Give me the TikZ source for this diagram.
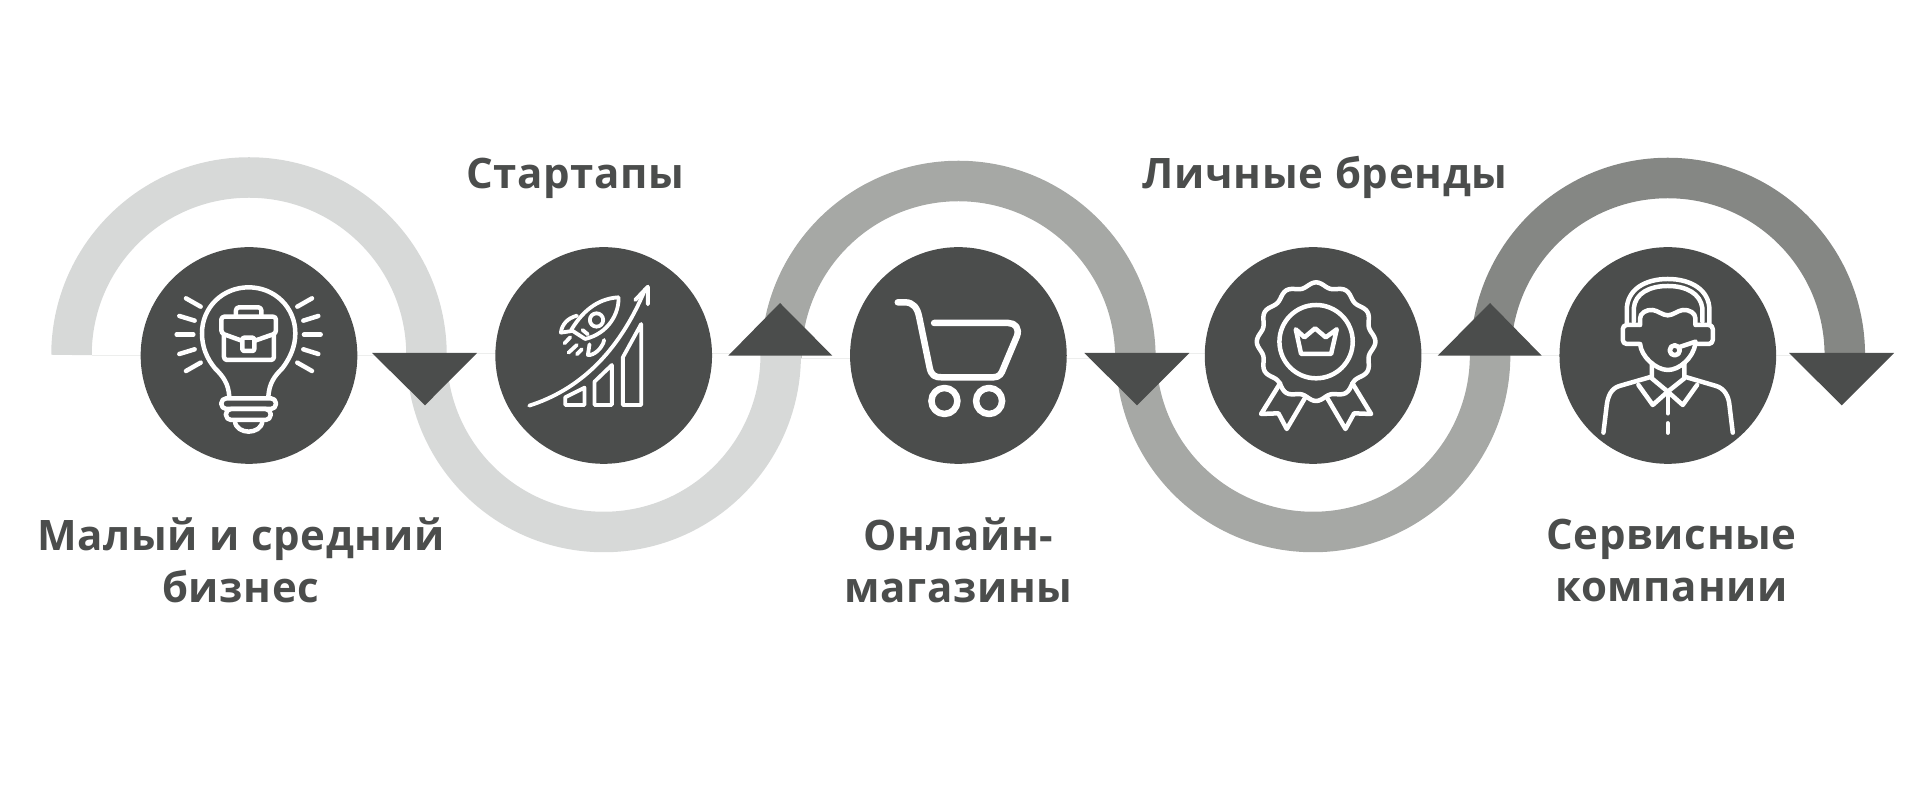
\documentclass[tikz,border=0pt]{standalone}
\usepackage{fontspec}
\setmainfont{Open Sans}[LetterSpace=1.6]
\usepackage{tikz}
\usetikzlibrary{positioning, calc, backgrounds}
\definecolor{hubgray}{HTML}{4B4D4C}
\definecolor{bandlight}{HTML}{D7D9D8}
\definecolor{bandmid}{HTML}{A6A8A5}
\definecolor{banddark}{HTML}{858784}
\definecolor{chordgray}{HTML}{EDEEED}
\tikzset{
  hub/.style={circle, fill=hubgray, minimum size=216.7pt, inner sep=0pt, outer sep=0pt},
  band/.style={line width=40.5pt},
  chord/.style={draw=chordgray, line width=0.7pt},
  caption/.style={text=hubgray, inner sep=0pt, align=center, font=\fontsize{42}{52}\selectfont\bfseries},
  icon/.style={x=0.3333pt, y=-0.3333pt, white, line width=4.5pt, line cap=round, line join=round}
}

\begin{document}
\begin{tikzpicture}[x=1pt, y=1pt]
  \useasboundingbox (0,0) rectangle (1920,800);

  \node[hub] (hubBulb) at (249,444.5) {};
  \node[hub, right=138pt of hubBulb] (hubRocket) {};
  \node[hub, right=138pt of hubRocket] (hubCart) {};
  \node[hub, right=138pt of hubCart] (hubBadge) {};
  \node[hub, right=138pt of hubBadge] (hubAgent) {};

  \begin{scope}[on background layer]
    \draw[chord] ($(hubBulb)+(-157,0)$) -- ($(hubBulb)+(157,0)$);
    \draw[chord] ($(hubRocket)+(-157,2)$) -- ($(hubRocket)+(157,2)$);
    \draw[chord] ($(hubCart)+(-157,-3)$) -- ($(hubCart)+(157,-3)$);
    \draw[chord] ($(hubBadge)+(-157,2)$) -- ($(hubBadge)+(157,2)$);
    \draw[chord] ($(hubAgent)+(-157,0)$) -- ($(hubAgent)+(157,0)$);
    \draw[band, bandlight] ($(hubBulb)+(-177.5,0.5)$) arc[start angle=180, end angle=0, radius=177.5];
    \draw[band, bandmid] ($(hubCart)+(-177,-2.5)$) arc[start angle=180, end angle=0, radius=177];
    \draw[band, banddark] ($(hubAgent)+(-177,0.5)$) arc[start angle=180, end angle=0, radius=177];
    \draw[band, bandlight] ($(hubRocket)+(-177,0.5)$) arc[start angle=180, end angle=360, radius=177];
    \draw[band, bandmid] ($(hubBadge)+(-177,0.5)$) arc[start angle=180, end angle=360, radius=177];
  \end{scope}

  \fill[hubgray] (372,447) -- (477,447) -- (425,394.7) -- cycle;
  \fill[hubgray] (728.3,444.3) -- (832.3,444.3) -- (780,497) -- cycle;
  \fill[hubgray] (1084.3,447) -- (1189.3,447) -- (1137,394.7) -- cycle;
  \fill[hubgray] (1437.7,444.3) -- (1541.7,444.3) -- (1490,497) -- cycle;
  \fill[hubgray] (1789,447) -- (1894,447) -- (1841.7,394.7) -- cycle;

  \node[caption, anchor=center] (capBulb) at (240.7,239.5) {Малый и средний\\бизнес};
  \node[caption, anchor=base] (capRocket) at (575,611.7) {Стартапы};
  \node[caption, anchor=center] (capCart) at (958.5,239.5) {Онлайн-\\магазины};
  \node[caption, anchor=base] (capBadge) at (1325,611.7) {Личные бренды};
  \node[caption, anchor=center] (capAgent) at (1671.5,239.5) {Сервисные\\компании};

  \begin{scope}[shift={($(hubBulb)+(-109,105.5)$)}, icon]
    \draw (268,440) .. controls (265,400) and (250,380) .. (225,355) .. controls (200,325) and (186,290) .. (186,250)
      .. controls (186,172) and (248,112) .. (326,112) .. controls (404,112) and (466,172) .. (466,250)
      .. controls (466,290) and (450,325) .. (427,355) .. controls (402,380) and (388,400) .. (385,440);
    \draw[rounded corners=5pt] (244,445) rectangle (408,477);
    \draw[rounded corners=5pt] (258,477) rectangle (392,510);
    \draw (285,512) .. controls (285,535) and (308,545) .. (326,545) .. controls (344,545) and (367,535) .. (367,512);
    \draw[rounded corners=3pt] (288,197) -- (288,172) -- (364,172) -- (364,197);
    \draw[rounded corners=3pt] (305,272) -- (244,250) -- (244,200) -- (408,200) -- (408,250) -- (345,272);
    \draw[rounded corners=3pt] (252,255) -- (252,330) -- (402,330) -- (402,255);
    \draw[rounded corners=2pt] (307,263) rectangle (343,303);
    \foreach \xa/\ya/\xb/\yb in {138/145/182/170, 118/198/164/212, 110/254/160/254, 118/312/164/298, 138/363/182/338,
      516/145/472/170, 535/198/490/212, 542/254/492/254, 535/312/490/298, 516/363/472/338} {
      \draw (\xa,\ya) -- (\xb,\yb);
    }
  \end{scope}

  \begin{scope}[shift={($(hubRocket)+(-108.5,105.5)$)}, icon, line width=3.8pt]
    \draw (383,465) -- (383,322) -- (438,222) -- (438,465) -- cycle;
    \draw (298,465) -- (298,395) -- (350,345) -- (350,465) -- cycle;
    \draw (210,465) -- (210,442) -- (268,413) -- (268,465) -- cycle;
    \draw (102,467) .. controls (250,420) and (370,310) .. (450,118);
    \draw (420,150) -- (458,110) -- (458,163);
    \draw (370,142) .. controls (320,145) and (270,170) .. (228,240) -- (270,267) .. controls (340,250) and (372,190) .. (370,142);
    \draw (245,197) .. controls (215,205) and (200,225) .. (197,248) -- (230,243);
    \draw (327,270) .. controls (322,295) and (295,318) .. (278,315) -- (283,283);
    \draw (208,280) -- (225,262);
    \draw (220,308) -- (245,285);
    \draw (245,313) -- (260,298);
    \draw (304,210) circle[radius=20];
    \draw (262,240) -- (278,253);
  \end{scope}

  \begin{scope}[shift={($(hubCart)+(-108.3,105.5)$)}, icon, line width=6.5pt]
    \draw (143,157) -- (165,157) .. controls (190,157) and (202,175) .. (207,200) -- (238,350)
      .. controls (243,378) and (255,382) .. (275,382) -- (430,382) .. controls (448,382) and (455,370) .. (460,355)
      -- (500,260) .. controls (510,235) and (495,219) .. (475,219) -- (252,219);
    \draw (283,453) circle[radius=39];
    \draw (417,453) circle[radius=39];
  \end{scope}

  \begin{scope}[shift={($(hubBadge)+(-108,105.5)$)}, icon]
    \draw plot[domain=0:360, samples=145, smooth] ({333+(171+7*cos(12*\x))*cos(\x)},{275+(171+7*cos(12*\x))*sin(\x)}) -- cycle;
    \draw (333,275) circle[radius=110];
    \draw (272,238) -- (298,262) -- (330,235) -- (362,262) -- (395,238) -- (378,312) -- (288,312) -- cycle;
    \draw (225,400) -- (168,492) -- (220,490) -- (245,537) -- (302,440);
    \draw (442,400) -- (498,492) -- (447,490) -- (421,537) -- (364,440);
  \end{scope}

  \begin{scope}[shift={($(hubAgent)+(-106.7,105.5)$)}, icon]
    \draw (197,222) -- (197,180) .. controls (197,120) and (250,87) .. (320,87) .. controls (390,87) and (445,120) .. (445,180) -- (445,222);
    \draw (218,215) -- (218,175) .. controls (222,130) and (265,108) .. (320,108) .. controls (375,108) and (418,130) .. (424,175) -- (424,215);
    \draw[rounded corners=4pt] (235,225) -- (185,225) -- (185,282) -- (235,282);
    \draw[rounded corners=4pt] (405,225) -- (455,225) -- (455,282) -- (405,282);
    \draw (237,225) -- (237,205) .. controls (237,190) and (255,178) .. (275,180) .. controls (290,182) and (305,196) .. (320,196)
      .. controls (335,196) and (350,182) .. (365,180) .. controls (385,178) and (403,190) .. (403,205) -- (403,225);
    \draw (237,282) .. controls (240,320) and (285,360) .. (320,360) .. controls (355,360) and (395,325) .. (403,282);
    \draw[line width=4.7pt] (341,301) circle[radius=15];
    \draw (358,290) -- (403,275);
    \draw (272,340) -- (272,385) -- (320,425) -- (370,385) -- (370,340);
    \draw (272,380) -- (175,408) .. controls (150,415) and (140,440) .. (137,465) -- (127,548);
    \draw (370,380) -- (465,408) .. controls (490,415) and (503,440) .. (505,465) -- (515,548);
    \draw (232,405) -- (275,465) -- (320,425) -- (365,465) -- (408,405);
    \draw (320,425) -- (320,490);
    \draw (320,520) -- (320,548);
  \end{scope}
\end{tikzpicture}
\end{document}
